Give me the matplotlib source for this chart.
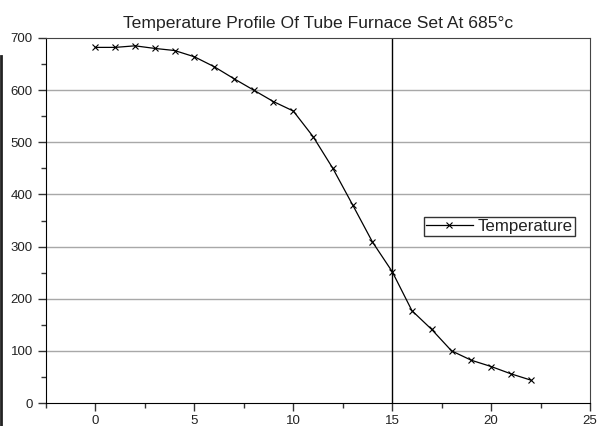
import matplotlib.pyplot as plt
from matplotlib.lines import Line2D

plt.rcParams['font.family'] = ['Liberation Sans', 'DejaVu Sans']

# Furnace position and measured temperature
position = [0, 1, 2, 3, 4, 5, 6, 7, 8, 9, 10, 11, 12, 13, 14, 15, 16, 17, 18, 19, 20, 21, 22]
temperature = [682, 682, 685, 680, 676, 664, 645, 622, 600, 578, 560, 511, 450, 380,
               309, 252, 177, 141, 100, 82, 70, 56, 44]

fig = plt.figure(figsize=(5.99, 4.26), dpi=100)
ax = fig.add_axes([46 / 599, 23 / 426, 544 / 599, 365 / 426])

# horizontal grey grid lines
for yv in [100, 200, 300, 400, 500, 600]:
    ax.axhline(yv, color='#a8a8a8', lw=1.0, zorder=1)
# vertical marker line at 15
ax.axvline(15, color='black', lw=1.0, zorder=2)

ax.plot(position, temperature, color='black', lw=0.9, marker='x', ms=4,
        mew=0.8, label='Temperature', zorder=3)

ax.set_xlim(-2.5, 25)
ax.set_ylim(0, 700)
ax.set_xticks([0, 5, 10, 15, 20, 25])
ax.set_xticks([-2.5, 2.5, 7.5, 12.5, 17.5, 22.5], minor=True)
ax.set_yticks([0, 100, 200, 300, 400, 500, 600, 700])
ax.set_yticks([50, 150, 250, 350, 450, 550, 650], minor=True)
ax.tick_params(which='major', direction='out', length=6, width=1, labelsize=9.5,
               colors='#333333', labelcolor='#222222')
ax.tick_params(which='minor', direction='out', length=3.5, width=1, colors='#333333')
ax.tick_params(axis='x', which='major', pad=2.5)

for side in ['left', 'bottom']:
    ax.spines[side].set_color('black')
for side in ['top', 'right']:
    ax.spines[side].set_color('#444444')

ax.set_title('Temperature Profile Of Tube Furnace Set At 685°c', fontsize=12.6, pad=7,
             color='#222222')

leg = ax.legend(loc='upper left', bbox_to_anchor=(0.694, 0.51), fontsize=12.2,
                frameon=True, fancybox=False, handlelength=2.8, handletextpad=0.3,
                borderpad=0.12, borderaxespad=0)
leg.get_frame().set_edgecolor('black')
leg.get_frame().set_linewidth(1.0)
for t in leg.get_texts():
    t.set_color('#222222')

# dark edge on the left of the picture
fig.add_artist(Line2D([1 / 599, 1 / 599], [0, 370 / 426], color='#222222', lw=2.0))

fig.savefig('out.png', dpi=100)
